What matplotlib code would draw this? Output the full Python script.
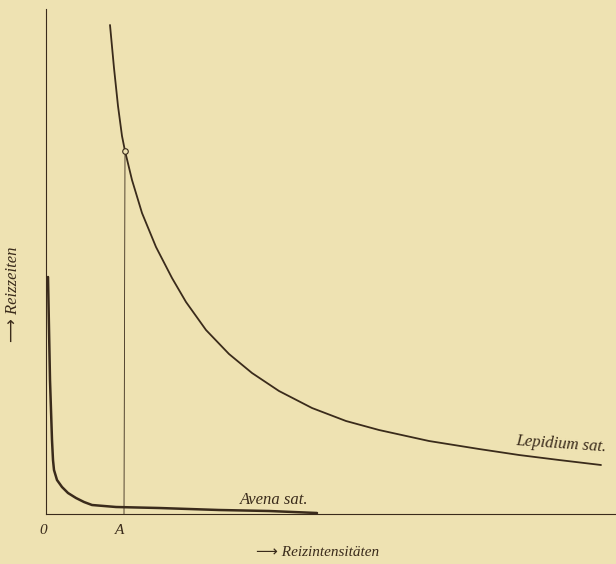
import numpy as np
import matplotlib.pyplot as plt

# values (x: stimulus intensity, y: reaction time, arbitrary units)
lep_x = [64, 68, 72, 76, 79, 86, 96, 110, 126, 140, 160, 183, 206, 233,
         266, 300, 333, 383, 433, 473, 513, 555]
lep_y = [489, 446, 408, 378, 363, 334, 301, 267, 236, 212, 184, 160, 141, 123,
         106, 93, 84, 73, 65, 59, 54, 49]

ave_x = [2, 4, 6, 7, 8, 11, 16, 22, 30, 38, 46, 70, 113, 173, 223, 271]
ave_y = [237, 134, 74, 54, 44, 34, 27, 21, 16, 12, 9, 7, 6, 4, 3, 1]

point_A = (79, 363)
x_ticks = [0, 77]
x_ticklabels = ['0', 'A']

bg = '#eee2b2'
ink = '#3a2b1b'
serif = ['Liberation Serif', 'DejaVu Sans']

fig = plt.figure(figsize=(6.16, 5.64), dpi=100, facecolor=bg)
ax = fig.add_axes([46/616, 50/564, 570/616, 505/564], facecolor=bg)

ax.plot(lep_x, lep_y, color=ink, lw=1.3, solid_capstyle='round', solid_joinstyle='round')
ax.plot(ave_x, ave_y, color=ink, lw=1.8, solid_capstyle='round', solid_joinstyle='round')
ax.plot([point_A[0] - 1, point_A[0]], [0, point_A[1]], color=ink, lw=0.6)
ax.plot(*point_A, 'o', ms=4, mfc=bg, mec=ink, mew=0.8, zorder=5)

ax.set_xlim(0, 570)
ax.set_ylim(0, 505)
for s in ['top', 'right']:
    ax.spines[s].set_visible(False)
for s in ['left', 'bottom']:
    ax.spines[s].set_color(ink)
    ax.spines[s].set_linewidth(0.8)
ax.set_xticks([])
ax.set_yticks([])

for xv, lab in zip(x_ticks, x_ticklabels):
    ax.text(xv - 3, -17, lab, ha='center', va='center', fontsize=11,
            style='italic', family=serif, color=ink)

ax.text(515, 70, 'Lepidium sat.', fontsize=12, style='italic', family=serif,
        color=ink, ha='center', va='center', rotation=-4)
ax.text(228, 14, 'Avena sat.', fontsize=12, style='italic', family=serif,
        color=ink, ha='center', va='center')

fig.text(318/616, 1 - 552/564, '\u27f6 Reizintensitäten', fontsize=11,
         style='italic', family=serif, color=ink, ha='center', va='center')
fig.text(13/616, 1 - 294/564, '\u27f6 Reizzeiten', fontsize=12, rotation=90,
         style='italic', family=serif, color=ink, ha='center', va='center')

fig.savefig('out.png', dpi=100, facecolor=bg)
